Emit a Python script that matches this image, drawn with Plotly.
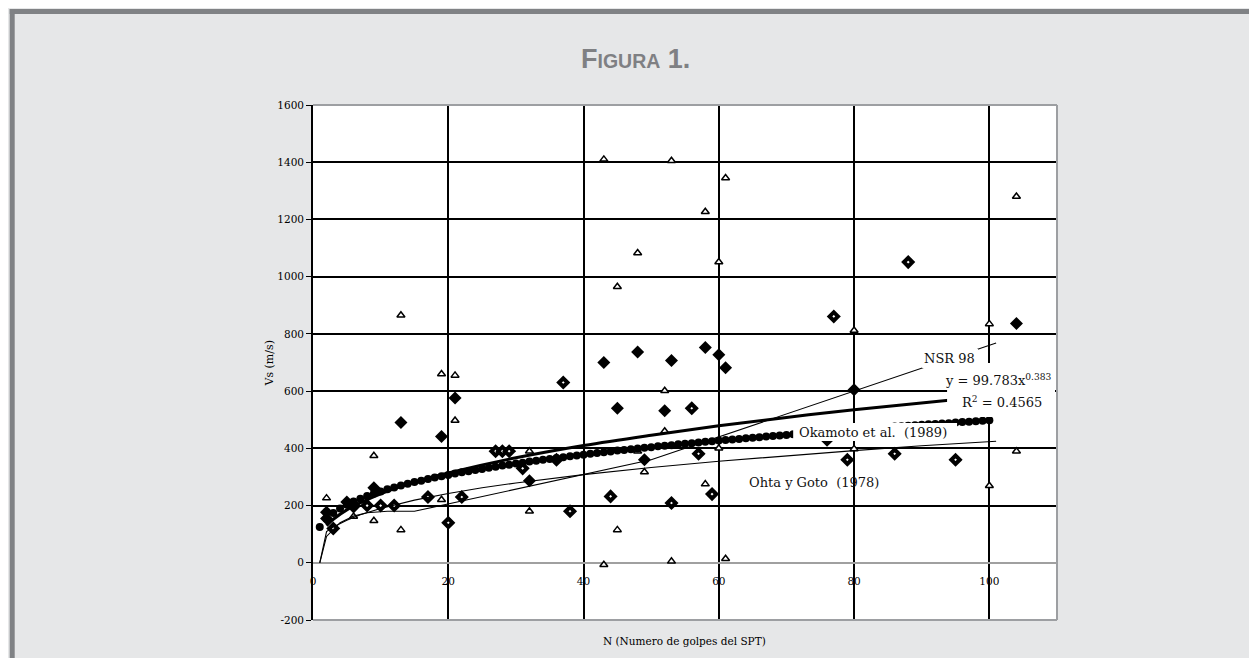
import plotly.graph_objects as go

# ---------------- data ----------------
# open triangles (measured points)
tri_n  = [2, 6, 9, 9, 13, 13, 19, 19, 21, 21, 32, 32, 43, 43, 45, 45, 48, 48, 49,
          52, 52, 53, 53, 58, 58, 60, 60, 61, 61, 80, 80, 100, 100, 104, 104]
tri_vs = [226, 162, 374, 147, 865, 115, 660, 220, 655, 497, 390, 180, 1410, -7, 965, 115, 1083, 390, 317,
          601, 460, 1405, 5, 1227, 275, 1051, 400, 1345, 14, 812, 398, 835, 269, 1280, 390]

# filled diamonds
dia_n  = [2, 2, 5, 6, 9, 13, 19, 21, 32, 43, 45, 48, 49, 52, 53, 58, 60, 61, 80, 104]
dia_vs = [177, 155, 212, 205, 262, 490, 441, 576, 287, 700, 540, 737, 360, 531, 707, 752, 727, 682, 605, 836]

# diamonds with white centre
ddia_n  = [3, 6, 8, 10, 12, 17, 20, 22, 27, 28, 29, 31, 36, 37, 38, 44, 53, 56, 57, 59,
           76, 77, 79, 86, 88, 95]
ddia_vs = [120, 197, 200, 200, 200, 230, 140, 230, 390, 390, 390, 330, 360, 630, 180, 232, 209, 540, 381, 240,
           430, 861, 360, 381, 1051, 360]

# Okamoto et al. (1989) dotted curve
oka_n = list(range(1, 101))
oka_vs = [125, 154, 174, 190, 203, 214, 224, 233, 242, 249,
          257, 263, 270, 276, 282, 287, 293, 298, 302, 307,
          312, 316, 320, 324, 328, 332, 336, 340, 343, 347,
          350, 354, 357, 360, 363, 366, 369, 372, 375, 378,
          381, 384, 386, 389, 392, 394, 397, 399, 402, 404,
          407, 409, 411, 414, 416, 418, 420, 423, 425, 427,
          429, 431, 433, 435, 437, 439, 441, 443, 445, 447,
          449, 451, 453, 455, 456, 458, 460, 462, 464, 465,
          467, 469, 471, 472, 474, 476, 477, 479, 481, 482,
          484, 485, 487, 488, 490, 492, 493, 495, 496, 498]

# power trend line  y = 99.783 x^0.383
trend_n  = [2, 3, 5, 10, 15, 20, 30, 40, 50, 60, 70, 80, 94, 104]
trend_vs = [130, 152, 185, 241, 282, 314, 367, 410, 446, 479, 508, 535, 568, 591]

# Ohta y Goto (1978)
ohta_n  = [1, 2, 3, 4, 5, 7, 10, 15, 20, 25, 30, 40, 50, 60, 70, 80, 90, 101]
ohta_vs = [0, 109, 125, 138, 149, 168, 190, 219, 242, 262, 279, 308, 333, 355, 374, 392, 409, 425]

# NSR 98
nsr_n  = [1, 2, 4, 6, 8, 11, 15, 50, 101]
nsr_vs = [0, 92, 140, 163, 175, 180, 180, 360, 768]

x_ticks = [0, 20, 40, 60, 80, 100]
y_ticks = [-200, 0, 200, 400, 600, 800, 1000, 1200, 1400, 1600]

# ---------------- geometry (screen pixels) ----------------
W, H = 1257, 658
OFF = 8                      # page body margin
PX0, PX1, PY0, PY1 = 312.5, 1057, 105, 620


def fx(sx):
    return (sx - PX0) / (PX1 - PX0)


def fy(sy):
    return (PY1 - sy) / (PY1 - PY0)


SERIF = "DejaVu Serif, serif"
fig = go.Figure()

fig.add_trace(go.Scatter(x=tri_n, y=tri_vs, mode="markers", name="tri",
                         marker=dict(symbol="triangle-up", size=7, color="white",
                                     line=dict(color="black", width=1.5))))
fig.add_trace(go.Scatter(x=ddia_n, y=ddia_vs, mode="markers", name="ddia",
                         marker=dict(symbol="diamond", size=6.5, color="white",
                                     line=dict(color="black", width=4))))
fig.add_trace(go.Scatter(x=oka_n, y=oka_vs, mode="markers", name="Okamoto",
                         marker=dict(symbol="circle", size=8, color="black", line=dict(width=0))))
fig.add_trace(go.Scatter(x=ohta_n, y=ohta_vs, mode="lines", name="Ohta",
                         line=dict(color="black", width=1.1)))
fig.add_trace(go.Scatter(x=nsr_n, y=nsr_vs, mode="lines", name="NSR",
                         line=dict(color="black", width=1.1)))
fig.add_trace(go.Scatter(x=trend_n, y=trend_vs, mode="lines", name="trend",
                         line=dict(color="black", width=3, shape="spline")))
fig.add_trace(go.Scatter(x=dia_n, y=dia_vs, mode="markers", name="dia",
                         marker=dict(symbol="diamond", size=10, color="black", line=dict(width=0))))

shapes = []
# page decoration
BAR = "#808285"
shapes.append(dict(type="rect", xref="paper", yref="paper", layer="below",
                   x0=fx(9), x1=fx(1300), y0=fy(9), y1=fy(14), fillcolor=BAR, line=dict(width=0)))
shapes.append(dict(type="rect", xref="paper", yref="paper", layer="below",
                   x0=fx(9), x1=fx(14), y0=fy(9), y1=fy(700), fillcolor=BAR, line=dict(width=0)))
# white label boxes
for (a, b, c, d) in [(922, 978, 349, 368), (947, 1055, 363, 417), (793, 957, 423, 441)]:
    shapes.append(dict(type="rect", xref="paper", yref="paper", layer="above",
                       x0=fx(a), x1=fx(b), y0=fy(d), y1=fy(c), fillcolor="white", line=dict(width=0)))
# plot frame (grey) top/right/bottom
FR = "#9d9fa2"
shapes.append(dict(type="line", xref="paper", yref="paper", layer="above", x0=0, x1=1, y0=1, y1=1,
                   line=dict(color=FR, width=2)))
shapes.append(dict(type="line", xref="paper", yref="paper", layer="above", x0=1, x1=1, y0=0, y1=1,
                   line=dict(color=FR, width=2)))
shapes.append(dict(type="line", xref="paper", yref="paper", layer="above", x0=0, x1=1, y0=0, y1=0,
                   line=dict(color=FR, width=2)))

ann = []
ann.append(dict(xref="paper", yref="paper", x=fx(635), y=fy(59), showarrow=False,
                xanchor="center", yanchor="middle",
                text="<b>F<span style='font-size:19.5px'>IGURA</span> 1.</b>",
                font=dict(family="Liberation Sans Narrow, Liberation Sans, sans-serif", size=27, color="#7f8083")))
ann.append(dict(xref="paper", yref="paper", x=fx(684.5), y=fy(641), showarrow=False,
                xanchor="center", yanchor="middle", text="N (Numero de golpes del SPT)",
                font=dict(family=SERIF, size=10.5, color="black")))
ann.append(dict(xref="paper", yref="paper", x=fx(268), y=fy(364), showarrow=False, textangle=-90,
                xanchor="center", yanchor="middle", text="Vs (m/s)",
                font=dict(family=SERIF, size=11, color="black")))
LBL = dict(family=SERIF, size=13, color="#111")
ann.append(dict(xref="paper", yref="paper", x=fx(949), y=fy(358), showarrow=False,
                xanchor="center", yanchor="middle", text="NSR 98", font=LBL))
ann.append(dict(xref="paper", yref="paper", x=fx(1054), y=fy(380), showarrow=False,
                xanchor="right", yanchor="middle", text="y = 99.783x<sup>0.383</sup>", font=LBL))
ann.append(dict(xref="paper", yref="paper", x=fx(1044), y=fy(402), showarrow=False,
                xanchor="right", yanchor="middle", text="R<sup>2</sup> = 0.4565", font=LBL))
ann.append(dict(xref="paper", yref="paper", x=fx(797), y=fy(432), showarrow=False,
                xanchor="left", yanchor="middle", text="Okamoto et al.  (1989)", font=LBL))
ann.append(dict(xref="paper", yref="paper", x=fx(747), y=fy(482), showarrow=False,
                xanchor="left", yanchor="middle", text="Ohta y Goto  (1978)", font=LBL))

fig.update_layout(
    width=W, height=H,
    margin=dict(l=PX0 - OFF, r=(OFF + W) - PX1, t=PY0 - OFF, b=(OFF + H) - PY1, pad=0),
    paper_bgcolor="#e6e7e8", plot_bgcolor="white",
    showlegend=False, shapes=shapes, annotations=ann,
    xaxis=dict(range=[0, 110], tickvals=x_ticks, ticktext=[str(v) for v in x_ticks],
               showgrid=True, gridcolor="black", gridwidth=1.8, zeroline=False, showline=False,
               anchor="free", position=200 / 1800, ticks="", ticklabelstandoff=11,
               tickfont=dict(family=SERIF, size=10.5, color="black")),
    yaxis=dict(range=[-200, 1600], tickvals=y_ticks, ticktext=[str(v) for v in y_ticks],
               showgrid=True, gridcolor="black", gridwidth=1.8,
               zeroline=True, zerolinecolor="#a0a0a0", zerolinewidth=2,
               showline=True, linecolor="black", linewidth=1.8,
               ticks="outside", ticklen=5, tickcolor="black", tickwidth=1,
               tickfont=dict(family=SERIF, size=10.5, color="black")),
)

fig.write_html("out.html")
